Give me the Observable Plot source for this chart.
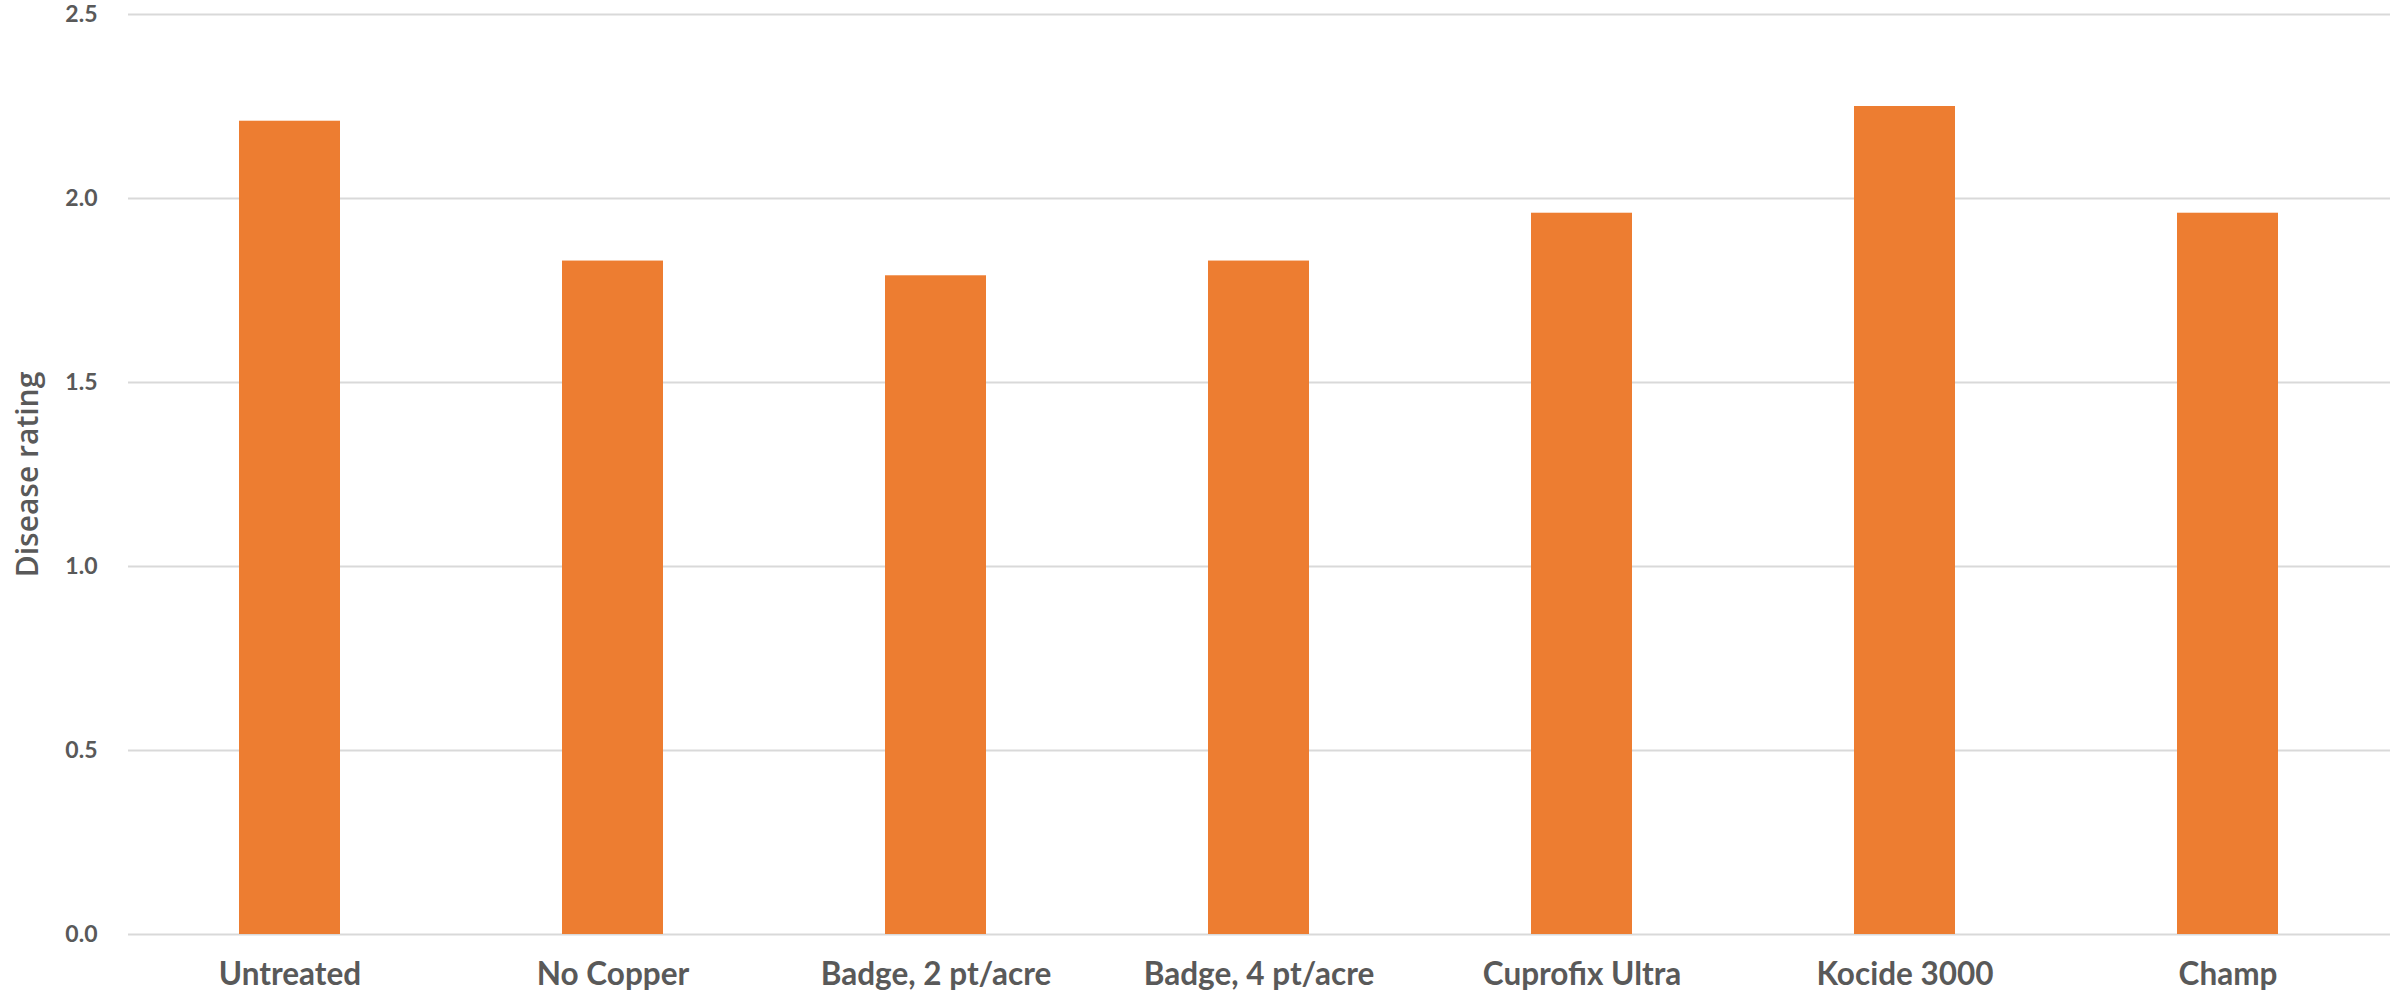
<!DOCTYPE html>
<html>
<head>
<meta charset="utf-8">
<script src="https://cdn.jsdelivr.net/npm/d3@7"></script>
<script src="https://cdn.jsdelivr.net/npm/@observablehq/plot@0.6"></script>
<style>
  html, body { margin: 0; padding: 0; background: #fff; }
  #chart svg { display: block; }
</style>
</head>
<body>
<div id="chart"></div>
<script>
const categories = ["Untreated", "No Copper", "Badge, 2 pt/acre", "Badge, 4 pt/acre", "Cuprofix Ultra", "Kocide 3000", "Champ"];
const ratings = [2.21, 1.83, 1.79, 1.83, 1.96, 2.25, 1.96];
const yTicks = [0, 0.5, 1.0, 1.5, 2.0, 2.5];
const yTitle = "Disease rating";

const data = categories.map((c, i) => ({category: c, rating: ratings[i]}));

const chart = Plot.plot({
  width: 2402,
  height: 994,
  marginTop: 14,
  marginBottom: 60,
  marginLeft: 128,
  marginRight: 12,
  style: {fontFamily: "Lato, 'Open Sans', sans-serif", color: "#595959", background: "#fff"},
  x: {domain: categories, paddingInner: 0.687, paddingOuter: 0.3435, label: null},
  y: {domain: [0, 2.5], label: null},
  marks: [
    Plot.ruleY(yTicks, {stroke: "#d9d9d9", strokeWidth: 2}),
    Plot.barY(data, {x: "category", y: "rating", fill: "#ED7D31"}),
    Plot.axisY({ticks: yTicks, tickSize: 0, tickPadding: 31, tickFormat: d => d.toFixed(1), fontSize: 23, fontWeight: "bold", fill: "#595959", label: null}),
    Plot.axisX({tickSize: 0, tickPadding: 28, fontSize: 31.5, fontWeight: "bold", fill: "#595959", label: null}),
    Plot.text([yTitle], {frameAnchor: "left", dx: -100, rotate: -90, text: d => d, fontSize: 30, fontWeight: 600, fontFamily: "'Open Sans', sans-serif", fill: "#595959", textAnchor: "middle"})
  ]
});
document.getElementById("chart").append(chart);
</script>
</body>
</html>
